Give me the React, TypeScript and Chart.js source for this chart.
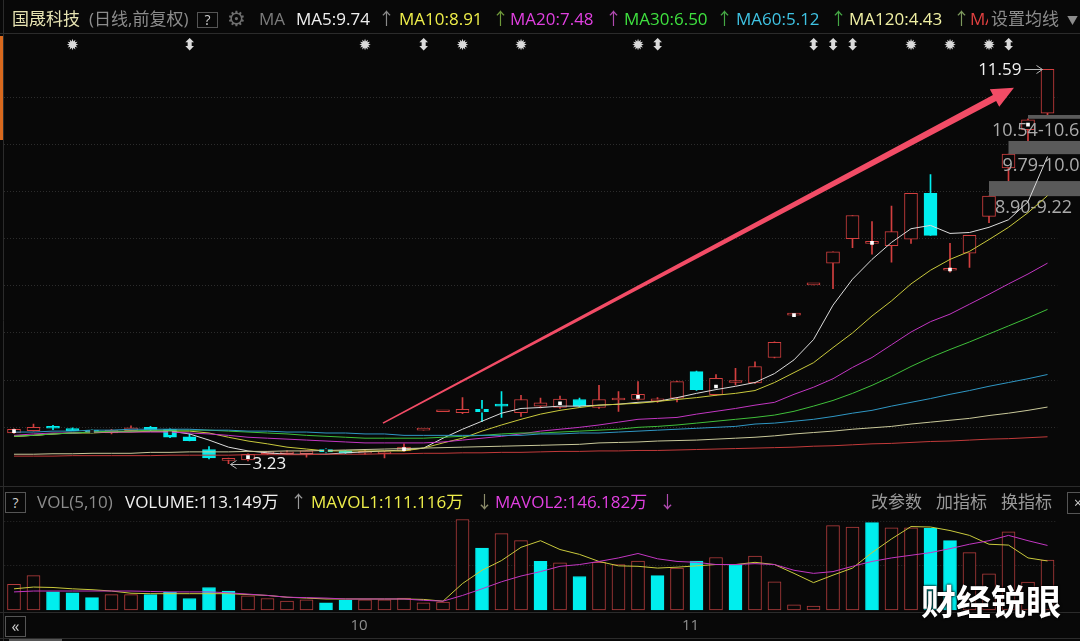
import React, { useEffect, useRef } from 'react';
import { Chart, registerables } from 'chart.js';

Chart.register(...registerables);

// ---------------- data ----------------
const DATES = [
  '2023-09-06', '2023-09-07', '2023-09-08', '2023-09-11', '2023-09-12', '2023-09-13', '2023-09-14', '2023-09-15', '2023-09-18', '2023-09-19',
  '2023-09-20', '2023-09-21', '2023-09-22', '2023-09-25', '2023-09-26', '2023-09-27', '2023-09-28', '2023-10-09', '2023-10-10', '2023-10-11',
  '2023-10-12', '2023-10-13', '2023-10-16', '2023-10-17', '2023-10-18', '2023-10-19', '2023-10-20', '2023-10-23', '2023-10-24', '2023-10-25',
  '2023-10-26', '2023-10-27', '2023-10-30', '2023-10-31', '2023-11-01', '2023-11-02', '2023-11-03', '2023-11-06', '2023-11-07', '2023-11-08',
  '2023-11-09', '2023-11-10', '2023-11-13', '2023-11-14', '2023-11-15', '2023-11-16', '2023-11-17', '2023-11-20', '2023-11-21', '2023-11-22',
  '2023-11-23', '2023-11-24', '2023-11-27', '2023-11-28',
];

const OPEN = [
  3.88, 3.93, 4.00, 3.97, 3.93, 3.88, 3.93, 4.00, 3.96, 3.80,
  3.53, 3.30, 3.31, 3.44, 3.44, 3.44, 3.53, 3.50, 3.45, 3.44,
  3.50, 3.94, 4.33, 4.31, 4.38, 4.49, 4.31, 4.45, 4.42, 4.59,
  4.42, 4.58, 4.59, 4.56, 4.62, 5.18, 4.69, 4.95, 4.94, 5.48,
  6.38, 7.02, 7.48, 8.00, 7.90, 7.85, 7.99, 8.96, 7.33, 7.69,
  8.47, 9.50, 10.31, 10.66,
];
const HIGH = [
  3.97, 4.07, 4.04, 3.99, 3.96, 3.96, 4.03, 4.02, 3.97, 3.86,
  3.59, 3.35, 3.44, 3.49, 3.50, 3.51, 3.55, 3.51, 3.51, 3.49,
  3.65, 3.94, 4.33, 4.63, 4.57, 4.76, 4.68, 4.62, 4.66, 4.62,
  4.89, 4.76, 4.97, 4.63, 4.98, 5.19, 5.12, 5.25, 5.39, 5.81,
  6.38, 7.02, 7.72, 8.49, 8.36, 8.69, 8.96, 9.36, 7.90, 8.07,
  8.90, 9.79, 10.54, 11.59,
];
const LOW = [
  3.87, 3.92, 3.95, 3.93, 3.88, 3.86, 3.92, 3.93, 3.78, 3.71,
  3.33, 3.23, 3.29, 3.42, 3.42, 3.37, 3.46, 3.44, 3.43, 3.35,
  3.49, 3.94, 4.33, 4.29, 4.12, 4.21, 4.23, 4.41, 4.40, 4.43,
  4.40, 4.34, 4.58, 4.53, 4.54, 4.78, 4.68, 4.90, 4.93, 5.47,
  6.38, 7.02, 6.94, 7.81, 7.67, 7.50, 7.90, 8.07, 7.29, 7.39,
  8.34, 9.22, 10.07, 10.62,
];
const CLOSE = [
  3.96, 4.00, 3.98, 3.93, 3.90, 3.94, 3.99, 3.94, 3.79, 3.72,
  3.35, 3.30, 3.43, 3.46, 3.47, 3.50, 3.48, 3.45, 3.47, 3.48,
  3.58, 3.94, 4.33, 4.38, 4.33, 4.45, 4.59, 4.52, 4.60, 4.45,
  4.59, 4.60, 4.70, 4.57, 4.97, 4.80, 5.04, 4.97, 5.29, 5.80,
  6.38, 7.02, 7.72, 8.49, 7.92, 8.15, 8.96, 8.07, 7.36, 8.07,
  8.90, 9.79, 10.52, 11.59,
];

// volume, 万股
const VOLUME = [
  58, 78, 41, 39, 28, 35, 35, 35, 40, 26,
  51, 43, 32, 26, 20, 23, 16, 22, 23, 23,
  27, 16, 18, 205, 140, 173, 157, 110, 107, 76,
  108, 103, 111, 78, 95, 111, 119, 103, 122, 64,
  12, 9, 191, 188, 198, 186, 186, 185, 157, 130,
  82, 177, 63, 113.149,
];
const MAVOL1 = [
  48, 52, 51, 48, 46, 43, 38, 37, 37, 37,
  37, 37, 35, 33, 29, 27, 25, 25, 25, 25,
  25, 24, 20, 60, 90, 112, 142, 157, 137, 126,
  110, 100, 99, 95, 97, 100, 103, 103, 108, 103,
  83, 62, 79, 95, 130, 161, 189, 188, 180, 169,
  149, 147, 118, 111.116,
];
const MAVOL2 = [
  41, 43, 43, 43, 43, 43, 43, 42, 41, 41,
  41, 39, 36, 33, 29, 28, 27, 25, 25, 25,
  25, 22, 20, 33, 48, 64, 77, 87, 99, 103,
  110, 118, 128, 116, 110, 108, 103, 103, 105, 103,
  90, 83, 87, 99, 110, 118, 124, 130, 139, 149,
  157, 169, 157, 146.182,
];

const MA5 = [
  3.81, 3.83, 3.86, 3.88, 3.90, 3.90, 3.92, 3.92, 3.92, 3.86,
  3.73, 3.58, 3.50, 3.46, 3.43, 3.43, 3.43, 3.46, 3.48, 3.50,
  3.52, 3.56, 3.77, 3.96, 4.13, 4.30, 4.40, 4.42, 4.45, 4.45,
  4.47, 4.49, 4.53, 4.55, 4.63, 4.72, 4.80, 4.87, 4.95, 5.14,
  5.43, 5.86, 6.59, 7.14, 7.56, 7.92, 8.21, 8.28, 8.11, 8.13,
  8.24, 8.40, 8.78, 9.74,
];
const MA10 = [
  3.81, 3.83, 3.86, 3.88, 3.88, 3.90, 3.90, 3.92, 3.92, 3.92,
  3.88, 3.79, 3.71, 3.65, 3.58, 3.54, 3.50, 3.50, 3.50, 3.50,
  3.50, 3.56, 3.67, 3.77, 3.92, 4.05, 4.17, 4.28, 4.36, 4.42,
  4.47, 4.49, 4.51, 4.55, 4.59, 4.63, 4.68, 4.72, 4.78, 4.95,
  5.16, 5.37, 5.69, 6.00, 6.36, 6.68, 7.04, 7.33, 7.56, 7.73,
  7.98, 8.24, 8.55, 8.91,
];
const MA20 = [
  3.83, 3.86, 3.88, 3.88, 3.90, 3.90, 3.90, 3.90, 3.90, 3.88,
  3.86, 3.83, 3.79, 3.77, 3.75, 3.73, 3.71, 3.69, 3.67, 3.67,
  3.67, 3.67, 3.69, 3.73, 3.77, 3.81, 3.86, 3.92, 3.96, 4.00,
  4.05, 4.11, 4.17, 4.19, 4.21, 4.28, 4.34, 4.40, 4.47, 4.53,
  4.70, 4.85, 5.03, 5.27, 5.48, 5.75, 6.02, 6.24, 6.40, 6.61,
  6.82, 7.04, 7.25, 7.48,
];
const MA30 = [
  3.81, 3.83, 3.86, 3.88, 3.90, 3.92, 3.92, 3.94, 3.94, 3.94,
  3.94, 3.92, 3.90, 3.88, 3.86, 3.83, 3.81, 3.79, 3.77, 3.77,
  3.77, 3.77, 3.79, 3.81, 3.83, 3.86, 3.88, 3.88, 3.90, 3.92,
  3.94, 3.96, 4.00, 4.02, 4.05, 4.09, 4.13, 4.17, 4.21, 4.26,
  4.34, 4.45, 4.57, 4.72, 4.89, 5.08, 5.29, 5.48, 5.65, 5.81,
  5.98, 6.15, 6.32, 6.50,
];
const MA60 = [
  3.90, 3.90, 3.92, 3.92, 3.94, 3.94, 3.96, 3.96, 3.96, 3.96,
  3.94, 3.94, 3.92, 3.92, 3.90, 3.90, 3.88, 3.88, 3.86, 3.86,
  3.83, 3.83, 3.83, 3.83, 3.83, 3.83, 3.83, 3.86, 3.86, 3.88,
  3.88, 3.90, 3.92, 3.94, 3.96, 3.98, 4.00, 4.02, 4.07, 4.09,
  4.13, 4.17, 4.23, 4.30, 4.36, 4.45, 4.53, 4.61, 4.70, 4.78,
  4.87, 4.95, 5.03, 5.12,
];
const MA120 = [
  3.43, 3.43, 3.44, 3.44, 3.45, 3.45, 3.45, 3.47, 3.47, 3.48,
  3.48, 3.48, 3.49, 3.49, 3.50, 3.50, 3.51, 3.52, 3.53, 3.54,
  3.55, 3.56, 3.57, 3.58, 3.59, 3.60, 3.61, 3.62, 3.63, 3.64,
  3.67, 3.68, 3.69, 3.71, 3.72, 3.73, 3.75, 3.77, 3.79, 3.82,
  3.86, 3.89, 3.92, 3.96, 3.99, 4.02, 4.07, 4.11, 4.15, 4.19,
  4.25, 4.30, 4.36, 4.43,
];
const MA250 = [
  3.39, 3.39, 3.39, 3.40, 3.40, 3.40, 3.40, 3.40, 3.41, 3.41,
  3.41, 3.41, 3.42, 3.42, 3.42, 3.42, 3.43, 3.43, 3.43, 3.44,
  3.44, 3.45, 3.45, 3.46, 3.46, 3.47, 3.47, 3.48, 3.49, 3.49,
  3.50, 3.50, 3.51, 3.51, 3.52, 3.53, 3.54, 3.55, 3.56, 3.57,
  3.58, 3.60, 3.61, 3.63, 3.65, 3.66, 3.68, 3.70, 3.71, 3.73,
  3.75, 3.76, 3.78, 3.80,
];

// cycle markers (every 4th bar), event markers
const MARKER_IDX = [0, 4, 8, 12, 16, 20, 24, 28, 32, 36, 40, 44, 48, 52];
const STAR_IDX = [3, 18, 23, 26, 32, 46, 48, 50];
const FLAG_IDX = [9, 21, 33, 41, 42, 43, 51];

// price gaps
const GAP_START = [50, 51, 52];
const GAP_LOW = [8.90, 9.79, 10.54];
const GAP_HIGH = [9.22, 10.07, 10.62];

// hand-drawn arrow (data coordinates: [index, price])
const ARROW_FROM = [18.92, 4.09];
const ARROW_TO = [51.28, 11.2];

// --------------- styling ---------------
const FONT = "'Open Sans','Noto Sans CJK SC',sans-serif";
const BG = '#080808';
const UP = '#d23f3f';
const DOWN = '#00eeee';
const VOL_UP = '#b23c3c';
const GAP_LABEL_DX = [6, -6, -36];

const framePlugin = {
  id: 'frame',
  beforeDraw(chart: any) {
    const { ctx, width } = chart;
    ctx.save();
    ctx.fillStyle = BG;
    ctx.fillRect(0, 0, width, chart.height);
    ctx.strokeStyle = '#2b2b2b';
    ctx.lineWidth = 1;
    const hl = (y: number) => { ctx.beginPath(); ctx.moveTo(0, y); ctx.lineTo(width, y); ctx.stroke(); };
    hl(33.5); hl(486.5); hl(612.5); hl(638.5);
    ctx.beginPath(); ctx.moveTo(3.5, 0); ctx.lineTo(3.5, 641); ctx.stroke();
    ctx.fillStyle = '#d8691e';
    ctx.fillRect(0, 36, 3, 104);
    ctx.fillStyle = '#555';
    ctx.fillRect(9, 639, 53, 2);
    ctx.restore();
  },
  afterDatasetDraw(chart: any, args: any) {
    if (args.index !== 1) return;
    const { ctx, scales } = chart;
    const xs = scales.x, ys = scales.y;
    ctx.save();
    for (let g = 0; g < GAP_START.length; g++) {
      const x0 = xs.getPixelForValue(GAP_START[g]);
      const yT = ys.getPixelForValue(GAP_HIGH[g]);
      const yB = ys.getPixelForValue(GAP_LOW[g]);
      ctx.fillStyle = '#5a5a5a';
      ctx.fillRect(x0, yT, chart.width - x0, yB - yT);
      ctx.font = `18px ${FONT}`;
      ctx.fillStyle = '#ababab';
      ctx.textAlign = 'left';
      ctx.textBaseline = 'top';
      ctx.fillText(`${GAP_LOW[g].toFixed(2)}-${GAP_HIGH[g].toFixed(2)}`, x0 + GAP_LABEL_DX[g], yB + 3);
    }
    ctx.restore();
  },
  afterDatasetsDraw(chart: any) {
    const { ctx, scales } = chart;
    const xs = scales.x, ys = scales.y;
    ctx.save();
    // event glyphs
    ctx.fillStyle = '#dadada';
    ctx.textAlign = 'center';
    ctx.textBaseline = 'middle';
    ctx.font = "bold 15px 'DejaVu Sans'";
    STAR_IDX.forEach((i) => ctx.fillText('✹', xs.getPixelForValue(i), 46));
    ctx.font = "bold 16px 'DejaVu Sans'";
    FLAG_IDX.forEach((i) => ctx.fillText('⬍', xs.getPixelForValue(i), 46));

    // highest / lowest annotations
    let hi = 0, lo = 0;
    HIGH.forEach((v, i) => { if (v > HIGH[hi]) hi = i; });
    LOW.forEach((v, i) => { if (v < LOW[lo]) lo = i; });
    const hx = xs.getPixelForValue(hi), hy = Math.round(ys.getPixelForValue(HIGH[hi])) + 0.5;
    const lx = xs.getPixelForValue(lo), ly = Math.round(ys.getPixelForValue(LOW[lo])) + 0.5;
    ctx.strokeStyle = '#b8b8b8';
    ctx.lineWidth = 1;
    ctx.beginPath();
    ctx.moveTo(hx - 23, hy); ctx.lineTo(hx - 5, hy);
    ctx.moveTo(hx - 11, hy - 4); ctx.lineTo(hx - 5, hy); ctx.lineTo(hx - 11, hy + 4);
    ctx.moveTo(lx + 2, ly); ctx.lineTo(lx + 22, ly);
    ctx.moveTo(lx + 8, ly - 4); ctx.lineTo(lx + 2, ly); ctx.lineTo(lx + 8, ly + 4);
    ctx.stroke();
    ctx.font = `17px ${FONT}`;
    ctx.fillStyle = '#f2f2f2';
    ctx.textBaseline = 'middle';
    ctx.textAlign = 'right';
    ctx.fillText(HIGH[hi].toFixed(2), hx - 26, hy + 1);
    ctx.textAlign = 'left';
    ctx.fillText(LOW[lo].toFixed(2), lx + 24, ly);

    // pink arrow
    const ax0 = xs.getPixelForValue(ARROW_FROM[0]), ay0 = ys.getPixelForValue(ARROW_FROM[1]);
    const ax1 = xs.getPixelForValue(ARROW_TO[0]), ay1 = ys.getPixelForValue(ARROW_TO[1]);
    const dx = ax1 - ax0, dy = ay1 - ay0, len = Math.hypot(dx, dy);
    const ux = dx / len, uy = dy / len, nx = -uy, ny = ux;
    const headLen = 22, headW = 10, w0 = 0.8, w1 = 3.4;
    const bx = ax1 - ux * headLen, by = ay1 - uy * headLen;
    ctx.fillStyle = '#f24c66';
    ctx.beginPath();
    ctx.moveTo(ax0 + nx * w0, ay0 + ny * w0);
    ctx.lineTo(bx + nx * w1, by + ny * w1);
    ctx.lineTo(bx + nx * headW, by + ny * headW);
    ctx.lineTo(ax1, ay1);
    ctx.lineTo(bx - nx * headW, by - ny * headW);
    ctx.lineTo(bx - nx * w1, by - ny * w1);
    ctx.lineTo(ax0 - nx * w0, ay0 - ny * w0);
    ctx.closePath();
    ctx.fill();
    ctx.restore();
  },
};

const lineDs = (label: string, data: number[], color: string, axis = 'y') => ({
  type: 'line' as const,
  label,
  data,
  borderColor: color,
  borderWidth: 1,
  pointRadius: 0,
  tension: 0,
  fill: false,
  yAxisID: axis,
  order: 5,
});

const Txt = ({ x, y, c, s = 17, bg, children }: any) => (
  <div style={{ position: 'absolute', left: x, top: y, color: c, fontSize: s, lineHeight: '20px', whiteSpace: 'nowrap', fontFamily: FONT, background: bg }}>
    {children}
  </div>
);

const Box = ({ x, y, w, h, children, s = 14 }: any) => (
  <div style={{ position: 'absolute', left: x, top: y, width: w, height: h, boxSizing: 'border-box', border: '1px solid #555', color: '#d0d0d0', fontSize: s, lineHeight: `${h - 2}px`, textAlign: 'center', fontFamily: FONT, background: BG }}>
    {children}
  </div>
);

export default function App() {
  const ref = useRef<HTMLCanvasElement>(null);

  useEffect(() => {
    const canvas = ref.current;
    if (!canvas) return;
    const isUp = (i: number) => CLOSE[i] >= OPEN[i];
    const volUp = (i: number) => i === 0 || CLOSE[i] >= CLOSE[i - 1];
    const candleColor = DATES.map((_, i) => (isUp(i) ? UP : DOWN));
    const markerData = DATES.map((_, i) => (MARKER_IDX.includes(i) ? (OPEN[i] + CLOSE[i]) / 2 : null));
    const markerColor = DATES.map((_, i) => (isUp(i) ? '#ffffff' : '#1a1a1a'));

    const chart = new Chart(canvas, {
      type: 'bar',
      data: {
        labels: DATES,
        datasets: [
          {
            type: 'bar', label: 'wick',
            data: DATES.map((_, i) => [LOW[i], HIGH[i]]),
            backgroundColor: candleColor, borderWidth: 0, barThickness: 1,
            grouped: false, yAxisID: 'y', order: 9,
          } as any,
          {
            type: 'bar', label: 'body',
            data: DATES.map((_, i) => [OPEN[i], CLOSE[i]]),
            backgroundColor: DATES.map((_, i) => (isUp(i) ? BG : DOWN)),
            borderColor: candleColor, borderWidth: 1, borderSkipped: false,
            barThickness: 13, minBarLength: 2, grouped: false, yAxisID: 'y', order: 8,
          } as any,
          {
            type: 'bar', label: 'VOLUME', data: VOLUME,
            backgroundColor: DATES.map((_, i) => (volUp(i) ? BG : DOWN)),
            borderColor: DATES.map((_, i) => (volUp(i) ? VOL_UP : DOWN)),
            borderWidth: 1, borderSkipped: false, barThickness: 13,
            grouped: false, yAxisID: 'yv', order: 10,
          } as any,
          lineDs('MA250', MA250, '#c23a3a'),
          lineDs('MA120', MA120, '#c9c89a'),
          lineDs('MA60', MA60, '#2f97c4'),
          lineDs('MA30', MA30, '#3fbf3a'),
          lineDs('MA20', MA20, '#c236c2'),
          lineDs('MA10', MA10, '#c9c93c'),
          lineDs('MA5', MA5, '#dcdcdc'),
          lineDs('MAVOL2', MAVOL2, '#c236c2', 'yv'),
          lineDs('MAVOL1', MAVOL1, '#c9c93c', 'yv'),
          {
            type: 'line', label: 'marker', data: markerData, showLine: false,
            pointStyle: 'rect', pointRadius: 2.6, pointBorderWidth: 0,
            pointBackgroundColor: markerColor, yAxisID: 'y', order: 1,
          } as any,
        ],
      },
      options: {
        responsive: false,
        animation: false,
        devicePixelRatio: 1,
        events: [],
        layout: { padding: { left: 4.25, right: 22.75, top: 0, bottom: 1 } },
        plugins: { legend: { display: false }, tooltip: { enabled: false } },
        scales: {
          x: {
            type: 'category',
            offset: true,
            grid: { display: false, drawTicks: false },
            border: { display: false },
            ticks: {
              autoSkip: false,
              maxRotation: 0,
              minRotation: 0,
              align: 'start',
              labelOffset: 5,
              padding: 5,
              color: '#8e8e8e',
              font: { size: 15, family: FONT },
              callback: (_v: any, idx: number) => {
                if (idx === 0) return '';
                const m = DATES[idx].slice(5, 7);
                return m !== DATES[idx - 1].slice(5, 7) ? String(parseInt(m, 10)) : '';
              },
            },
          },
          y: {
            type: 'linear',
            position: 'left',
            min: 0.086,
            max: 12.973,
            ticks: { display: false, stepSize: 1 },
            grid: {
              drawTicks: false,
              lineWidth: 1,
              color: (c: any) => {
                const v = c.tick && c.tick.value;
                return v >= 4 && v <= 11 && Number.isInteger(v) ? '#2c2c2c' : 'rgba(0,0,0,0)';
              },
            },
            border: { display: false, dash: [1, 2] },
          },
          yv: {
            type: 'linear',
            position: 'right',
            min: -4.5,
            max: 1372.5,
            ticks: { display: false, stepSize: 100 },
            grid: {
              drawTicks: false,
              lineWidth: 1,
              color: (c: any) => {
                const v = c.tick && c.tick.value;
                return v === 100 || v === 200 ? '#2a2a2a' : 'rgba(0,0,0,0)';
              },
            },
            border: { display: false, dash: [1, 2] },
          },
        },
      } as any,
      plugins: [framePlugin],
    });
    return () => chart.destroy();
  }, []);

  const last = DATES.length - 1;
  const up = '↑';

  return (
    <div style={{ position: 'absolute', left: 0, top: 0, width: 1080, height: 641, background: BG, overflow: 'hidden' }}>
      <canvas ref={ref} width={1080} height={641} style={{ position: 'absolute', left: 0, top: 0, width: 1080, height: 641 }} />

      {/* header */}
      <Txt x={12} y={9} c="#e6e3b2">国晟科技</Txt>
      <Txt x={89} y={9} c="#8c8c8c">(日线,前复权)</Txt>
      <Box x={197} y={12} w={21} h={16}>?</Box>
      <Txt x={227} y={8} c="#6e6e6e" s={21}><span style={{ fontFamily: 'DejaVu Sans' }}>⚙</span></Txt>
      <Txt x={259} y={9} c="#7c7c7c">MA</Txt>
      <Txt x={296} y={9} c="#f0f0f0">{`MA5:${MA5[last].toFixed(2)}`}</Txt>
      <Txt x={378} y={9} c="#8a8a8a">{up}</Txt>
      <Txt x={399} y={9} c="#eeee4a">{`MA10:${MA10[last].toFixed(2)}`}</Txt>
      <Txt x={492} y={9} c="#6f9a3a">{up}</Txt>
      <Txt x={510} y={9} c="#e040e0">{`MA20:${MA20[last].toFixed(2)}`}</Txt>
      <Txt x={605} y={9} c="#b04ab0">{up}</Txt>
      <Txt x={624} y={9} c="#3fe03f">{`MA30:${MA30[last].toFixed(2)}`}</Txt>
      <Txt x={716} y={9} c="#45a845">{up}</Txt>
      <Txt x={736} y={9} c="#3fc3e3">{`MA60:${MA60[last].toFixed(2)}`}</Txt>
      <Txt x={830} y={9} c="#45a845">{up}</Txt>
      <Txt x={849} y={9} c="#f0f0a4">{`MA120:${MA120[last].toFixed(2)}`}</Txt>
      <Txt x={953} y={9} c="#7e9a5e">{up}</Txt>
      <Txt x={970} y={9} c="#e04040">{`MA250:${MA250[last].toFixed(2)}`}</Txt>
      <Txt x={988} y={9} c="#8c8c8c" bg={BG}>
        <span style={{ paddingLeft: 3 }}>设置均线</span>
        <span style={{ fontSize: 11, marginLeft: 8, color: '#8c8c8c' }}>▼</span>
      </Txt>

      {/* volume header */}
      <Box x={5} y={492} w={21} h={21}>?</Box>
      <Txt x={37} y={492} c="#8c8c8c">VOL(5,10)</Txt>
      <Txt x={125} y={492} c="#f0f0f0">{`VOLUME:${VOLUME[last].toFixed(3)}万`}</Txt>
      <Txt x={290} y={492} c="#9a9a9a">↑</Txt>
      <Txt x={311} y={492} c="#eeee4a">{`MAVOL1:${MAVOL1[last].toFixed(3)}万`}</Txt>
      <Txt x={476} y={492} c="#8c8c6a">↓</Txt>
      <Txt x={495} y={492} c="#e040e0">{`MAVOL2:${MAVOL2[last].toFixed(3)}万`}</Txt>
      <Txt x={659} y={492} c="#b04ab0">↓</Txt>
      <Txt x={871} y={492} c="#9a9a9a">改参数</Txt>
      <Txt x={936} y={492} c="#9a9a9a">加指标</Txt>
      <Txt x={1001} y={492} c="#9a9a9a">换指标</Txt>
      <Box x={1067} y={492} w={22} h={22}>×</Box>

      {/* bottom controls */}
      <Box x={5} y={616} w={21} h={21} s={16}>«</Box>

      {/* watermark */}
      <div style={{ position: 'absolute', left: 921, top: 580, fontSize: 35, lineHeight: '40px', fontWeight: 700, color: '#ffffff', fontFamily: "'Noto Sans CJK SC',sans-serif", textShadow: '0 0 3px #000, 0 0 2px #000', whiteSpace: 'nowrap' }}>
        财经锐眼
      </div>
    </div>
  );
}
